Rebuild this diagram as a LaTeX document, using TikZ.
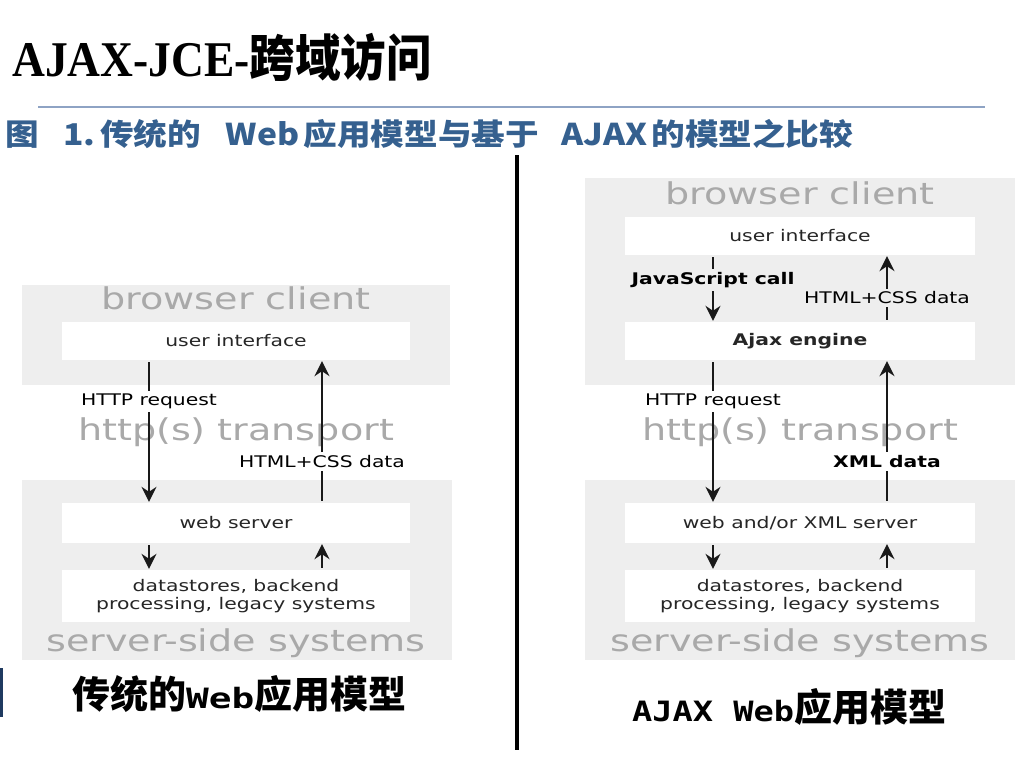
\documentclass[tikz,border=0pt]{standalone}
\usepackage{fontspec}
\usetikzlibrary{arrows.meta}
\setmainfont{Liberation Serif}
\newfontfamily\cjk{Noto Sans CJK SC}
\newfontfamily\dv{DejaVu Sans}
\newfontfamily\dvm{DejaVu Sans Mono}
\definecolor{boxgray}{HTML}{EEEEEE}
\definecolor{txtgray}{HTML}{A9A9A9}
\definecolor{capblue}{HTML}{35608F}
\definecolor{rulebl}{HTML}{8EA3C4}
\definecolor{barblue}{HTML}{1F3A60}
\newcommand\sx[1]{\scalebox{1.27}[1]{#1}}
\tikzset{
  gbox/.style={rectangle,fill=boxgray,draw=none,inner sep=0},
  wbox/.style={rectangle,fill=white,draw=none,inner sep=0,minimum width=348,font=\dv\fontsize{16}{18}\selectfont,text=black!85,align=center},
  gtxt/.style={text=txtgray,font=\dv\fontsize{30}{30}\selectfont,inner sep=0},
  lab/.style={font=\dv\fontsize{16}{18}\selectfont,text=black,inner sep=3},
  arr/.style={line width=1.6,draw=black!90,shorten <=2,shorten >=1,-{Stealth[length=15,width=15,inset=5]}}
}
\begin{document}
\begin{tikzpicture}[x=1pt,y=-1pt]
\fill[white] (0,0) rectangle (1024,768);
\useasboundingbox (0,0) rectangle (1024,768);
% title
\node[anchor=base west,inner sep=0] (title) at (12,76) {\scalebox{0.91}[1]{\fontsize{50}{50}\selectfont\bfseries AJAX-JCE-{\cjk 跨域访问}}};
\draw[rulebl,line width=2] (38,107) -- (985,107);
\node[anchor=base west,inner sep=0,text=capblue] (cap) at (5,145) {\scalebox{1.12}[1]{\fontsize{30}{30}\selectfont\cjk\bfseries 图\hspace{22pt}1.\hspace{4pt}传统的\hspace{22pt}Web\hspace{4pt}应用模型与基于\hspace{20pt}AJAX\hspace{4pt}的模型之比较}};
% divider
\draw[black,line width=4.5] (517,155) -- (517,750);
\fill[barblue] (0,668) rectangle (3,717);

% ---------- left panel ----------
\node[gbox,minimum width=428,minimum height=100] (bc1) at (236,335) {};
\node[gbox,minimum width=430,minimum height=180] (ss1) at (237,570) {};
\node[gtxt] (bct1) at (236,298) {\sx{browser client}};
\node[gtxt] (tr1) at (236,432) {\sx{http(s) transport}};
\node[gtxt] (sst1) at (236,643) {\sx{server-side systems}};
\node[wbox,minimum height=38] (ui1) at (236,341) {\sx{user interface}};
\node[wbox,minimum height=40] (ws1) at (236,523) {\sx{web server}};
\node[wbox,minimum height=52] (ds1) at (236,596) {\sx{datastores, backend}\\\sx{processing, legacy systems}};
\coordinate (xl1) at (149,0);
\coordinate (xr1) at (322,0);
\draw[arr] (ui1.south -| xl1) -- node[lab,pos=0.29,fill=white]{\sx{HTTP request}} (ws1.north -| xl1);
\draw[arr] (ws1.north -| xr1) -- node[lab,pos=0.29,fill=white]{\sx{HTML+CSS data}} (ui1.south -| xr1);
\draw[arr] (ws1.south -| xl1) -- (ds1.north -| xl1);
\draw[arr] (ds1.north -| xr1) -- (ws1.south -| xr1);
\node[anchor=base west,inner sep=0] (cl) at (72,708) {\fontsize{38}{38}\selectfont{\cjk\bfseries 传统的}\scalebox{1.35}[1]{\dvm\bfseries\fontsize{28}{28}\selectfont Web}{\cjk\bfseries 应用模型}};

% ---------- right panel ----------
\node[gbox,minimum width=430,minimum height=207] (bc2) at (800,281.5) {};
\node[gbox,minimum width=430,minimum height=180] (ss2) at (800,570) {};
\node[gtxt] (bct2) at (800,193) {\sx{browser client}};
\node[gtxt] (tr2) at (800,432) {\sx{http(s) transport}};
\node[gtxt] (sst2) at (800,643) {\sx{server-side systems}};
\node[wbox,minimum width=350,minimum height=38] (ui2) at (800,236) {\sx{user interface}};
\node[wbox,minimum width=350,minimum height=38] (ae2) at (800,341) {\sx{\bfseries Ajax engine}};
\node[wbox,minimum width=350,minimum height=40] (ws2) at (800,523) {\sx{web and/or XML server}};
\node[wbox,minimum width=350,minimum height=52] (ds2) at (800,596) {\sx{datastores, backend}\\\sx{processing, legacy systems}};
\coordinate (xl2) at (713,0);
\coordinate (xr2) at (887,0);
\draw[arr] (ui2.south -| xl2) -- node[lab,pos=0.37,fill=boxgray]{\sx{\bfseries JavaScript call}} (ae2.north -| xl2);
\draw[arr] (ae2.north -| xr2) -- node[lab,pos=0.36,fill=boxgray]{\sx{HTML+CSS data}} (ui2.south -| xr2);
\draw[arr] (ae2.south -| xl2) -- node[lab,pos=0.29,fill=white]{\sx{HTTP request}} (ws2.north -| xl2);
\draw[arr] (ws2.north -| xr2) -- node[lab,pos=0.29,fill=white]{\sx{\bfseries XML data}} (ae2.south -| xr2);
\draw[arr] (ws2.south -| xl2) -- (ds2.north -| xl2);
\draw[arr] (ds2.north -| xr2) -- (ws2.south -| xr2);
\node[anchor=base west,inner sep=0] (cr) at (632,721) {\fontsize{38}{38}\selectfont\scalebox{1.2}[1]{\dvm\bfseries\fontsize{28}{28}\selectfont AJAX Web}{\cjk\bfseries 应用模型}};
\end{tikzpicture}
\end{document}
